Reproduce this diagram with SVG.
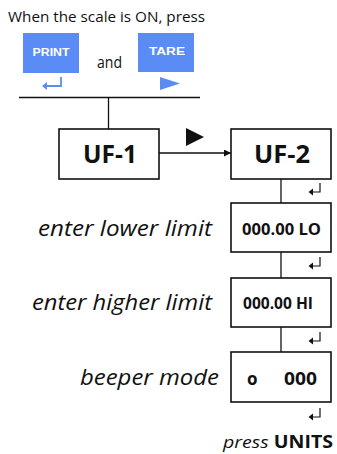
<svg xmlns="http://www.w3.org/2000/svg" width="337" height="454" viewBox="0 0 337 454">
<style>
.t{font-family:"Open Sans","Liberation Sans",sans-serif;fill:#111}
.box{fill:#fff;stroke:#111;stroke-width:1.6}
.btn{fill:#5b8bf5}
.bt{font-family:"Liberation Sans",Arial,sans-serif;font-weight:bold;font-size:11px;fill:#fff}
.ln{stroke:#111;stroke-width:1.3;fill:none}
.ent{stroke:#111;stroke-width:1.2;fill:none}
.lbl{font-family:"Open Sans","Liberation Sans",sans-serif;font-style:italic;font-size:21px;fill:#111}
.nb{font-family:"Open Sans","Liberation Sans",sans-serif;font-weight:bold;fill:#111}
</style>
<defs>
<marker id="ah" viewBox="0 0 10 10" refX="10" refY="5" markerWidth="7" markerHeight="7" markerUnits="userSpaceOnUse" orient="auto"><path d="M0,0 L10,5 L0,10 z" fill="#111"/></marker>
<g id="enter"><path class="ent" d="M12,0 V9 H3"/><path d="M0.5,9 L5,5.5 L5,12.5 z" fill="#111"/></g>
</defs>
<text class="t" x="8" y="22" font-size="15" textLength="197" lengthAdjust="spacingAndGlyphs">When the scale is ON, press</text>
<g id="print">
<rect class="btn" x="23" y="33" width="56" height="40"/>
<text class="bt" x="51" y="56" text-anchor="middle" textLength="37" lengthAdjust="spacingAndGlyphs">PRINT</text>
<path d="M61,77 V86 H46" stroke="#5b8bf5" stroke-width="1.8" fill="none"/>
<path d="M42,86 L47,82 L47,90 z" fill="#5b8bf5"/>
</g>
<text class="t" x="97" y="68" font-size="15.5" textLength="25" lengthAdjust="spacingAndGlyphs">and</text>
<g id="tare">
<rect class="btn" x="138" y="33" width="56" height="39"/>
<text class="bt" x="167" y="55" text-anchor="middle" textLength="36" lengthAdjust="spacingAndGlyphs">TARE</text>
<path d="M160,77 L180,83.5 L160,90 z" fill="#5b8bf5"/>
</g>
<g id="connectors">
<path class="ln" d="M19,97.5 H200"/>
<path class="ln" d="M108.5,97.5 V129"/>
<path class="ln" d="M159,153 H231" marker-end="url(#ah)"/>
<path d="M186,128 L204,137 L186,146 z" fill="#111"/>
<path class="ln" d="M281,179 V203"/>
<path class="ln" d="M281,252 V278"/>
<path class="ln" d="M281,327 V352"/>
<use href="#enter" x="308" y="183"/>
<use href="#enter" x="308" y="257"/>
<use href="#enter" x="308" y="332"/>
<use href="#enter" x="308" y="408"/>
</g>
<g id="uf1">
<rect class="box" x="59" y="129" width="100" height="50"/>
<text class="nb" x="110" y="163" font-size="25" text-anchor="middle" textLength="54" lengthAdjust="spacingAndGlyphs">UF-1</text>
</g>
<g id="uf2">
<rect class="box" x="231" y="129" width="100" height="50"/>
<text class="nb" x="282" y="163" font-size="25" text-anchor="middle" textLength="56" lengthAdjust="spacingAndGlyphs">UF-2</text>
</g>
<g id="lo">
<text class="lbl" x="212" y="236" text-anchor="end" textLength="174" lengthAdjust="spacingAndGlyphs">enter lower limit</text>
<rect class="box" x="231" y="203" width="100" height="49"/>
<text class="nb" x="242" y="235" font-size="15.5" textLength="79" lengthAdjust="spacingAndGlyphs">000.00  LO</text>
</g>
<g id="hi">
<text class="lbl" x="212" y="310" text-anchor="end" textLength="180" lengthAdjust="spacingAndGlyphs">enter higher limit</text>
<rect class="box" x="231" y="278" width="100" height="49"/>
<text class="nb" x="243" y="309" font-size="15.5" textLength="70" lengthAdjust="spacingAndGlyphs">000.00 HI</text>
</g>
<g id="beeper">
<text class="lbl" x="219" y="385" text-anchor="end" textLength="139" lengthAdjust="spacingAndGlyphs">beeper mode</text>
<rect class="box" x="231" y="352" width="100" height="50"/>
<text class="nb" x="247" y="385" font-size="17">o</text>
<text class="nb" x="284" y="385" font-size="17" textLength="33" lengthAdjust="spacingAndGlyphs">000</text>
</g>
<g id="units">
<text x="223" y="448" font-size="17" class="t" textLength="110" lengthAdjust="spacingAndGlyphs"><tspan font-style="italic">press</tspan> <tspan font-weight="bold">UNITS</tspan></text>
</g>
</svg>
